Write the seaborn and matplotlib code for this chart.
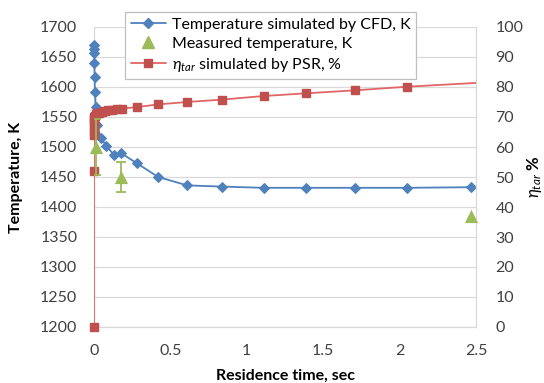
import matplotlib
matplotlib.use("Agg")
import matplotlib.pyplot as plt
import seaborn as sns
import numpy as np
from matplotlib.lines import Line2D

# ---- data ----
cfd_time = [0.0, 0.001, 0.002, 0.003, 0.004, 0.006, 0.012, 0.02, 0.045, 0.08, 0.13, 0.175,
            0.28, 0.42, 0.61, 0.84, 1.11, 1.39, 1.71, 2.05, 2.47]
cfd_temp = [1670, 1664, 1656, 1640, 1617, 1592, 1567, 1537, 1515, 1502, 1487, 1490,
            1473, 1450, 1436, 1434, 1432, 1432, 1432, 1432, 1433]

meas_time = [0.015, 0.175, 2.47]
meas_temp = [1500, 1450, 1385]
meas_err = [47, 25, 0]

psr_time = [0.0, 0.0, 0.0, 0.0, 0.0, 0.0, 0.0, 0.002, 0.006, 0.012, 0.02, 0.035, 0.05,
            0.07, 0.09, 0.12, 0.15, 0.18, 0.28, 0.42, 0.61, 0.84, 1.11, 1.39, 1.71, 2.05, 2.62]
psr_eta = [0, 52, 64, 65.5, 67, 68.3, 69.3, 70.0, 70.5, 70.9, 71.2, 71.5, 71.8,
           72.0, 72.2, 72.4, 72.6, 72.8, 73.3, 74.2, 75.0, 75.8, 77.0, 77.9, 78.9, 80.1, 81.7]

x_ticks = [0, 0.5, 1, 1.5, 2, 2.5]
x_tick_labels = ["0", "0.5", "1", "1.5", "2", "2.5"]
left_ticks = list(range(1200, 1701, 50))
right_ticks = list(range(0, 101, 10))

labels = ["Temperature simulated by CFD, K", "Measured temperature, K",
          r"$\eta_{tar}$ simulated by PSR, %"]

# ---- style ----
sns.set_theme(style="white")
plt.rcParams["font.family"] = ["Lato", "DejaVu Sans"]
plt.rcParams["mathtext.fontset"] = "custom"
plt.rcParams["mathtext.it"] = "Lato:italic"
plt.rcParams["mathtext.rm"] = "Lato"

blue = "#4F81BD"
red = "#C0504D"
red_line = "#E06666"
green = "#9BBB59"
grid_c = "#D9D9D9"
txt_c = "#404040"
fs = 11.5

fig = plt.figure(figsize=(5.44, 3.83), dpi=100)
ax = fig.add_axes([94 / 544, 1 - 327 / 383, (476 - 94) / 544, 300 / 383])

# horizontal grid
for y in left_ticks:
    ax.axhline(y, color=grid_c, lw=0.9, zorder=0)

sns.lineplot(x=cfd_time, y=cfd_temp, ax=ax, color=blue, marker="D", markersize=5,
             markeredgecolor=blue, lw=1.3, sort=False, estimator=None, zorder=3,
             clip_on=False)

ax.set_xlim(0, 2.5)
ax.set_ylim(1200, 1700)
ax.set_xticks(x_ticks)
ax.set_xticklabels(x_tick_labels)
ax.set_yticks(left_ticks)
ax.tick_params(axis="both", labelsize=fs, colors=txt_c, length=0)
ax.tick_params(axis="y", pad=12)
ax.tick_params(axis="x", length=4, direction="in", color=grid_c, pad=12)
for s in ["top", "right"]:
    ax.spines[s].set_visible(False)
for s in ["left", "bottom"]:
    ax.spines[s].set_color(grid_c)
    ax.spines[s].set_linewidth(0.9)
ax.set_xlabel("Residence time, sec", fontsize=fs, fontweight="bold", color="black", labelpad=8)
ax.set_ylabel("Temperature, K", fontsize=fs, fontweight="bold", color="black", labelpad=12)

ax2 = ax.twinx()
sns.lineplot(x=psr_time, y=psr_eta, ax=ax2, color=red_line, lw=1.3, sort=False,
             estimator=None, zorder=3)
ax2.plot(psr_time[:-1], psr_eta[:-1], ls="none", marker="s", markersize=6,
         color=red, markeredgecolor=red, zorder=4, clip_on=False)
ax2.set_ylim(0, 100)
ax2.set_xlim(0, 2.5)

# measured temperature drawn on top (uses the temperature axis scale)
ax2.errorbar(meas_time[:2], meas_temp[:2], yerr=meas_err[:2], fmt="none",
             ecolor=green, elinewidth=1.3, capsize=3.5, capthick=1.3, zorder=5,
             transform=ax.transData)
sns.scatterplot(x=meas_time, y=meas_temp, ax=ax2, color=green, marker="^", s=90,
                edgecolor=green, linewidth=0, zorder=6, transform=ax.transData,
                clip_on=False)
ax2.set_ylim(0, 100)
ax2.set_xlim(0, 2.5)
ax2.set_ylabel("")
ax2.set_yticks(right_ticks)
ax2.tick_params(axis="y", labelsize=fs, colors=txt_c, length=0, pad=14)
for s in ["top", "left", "bottom"]:
    ax2.spines[s].set_visible(False)
ax2.spines["right"].set_color(grid_c)
ax2.spines["right"].set_linewidth(0.9)
ax2.set_ylabel(r"$\eta_{tar}$ %", fontsize=12, fontweight="bold", color="black",
               rotation=90, labelpad=1)

handles = [
    Line2D([], [], color=blue, marker="D", markersize=5, lw=1.3),
    Line2D([], [], color=green, marker="^", markersize=8, lw=0),
    Line2D([], [], color=red_line, marker="s", markersize=6, markerfacecolor=red,
           markeredgecolor=red, lw=1.3),
]
leg = ax2.legend(handles, labels, loc="upper left", bbox_to_anchor=(125 / 544, 1 - 12 / 383),
                 bbox_transform=fig.transFigure, borderaxespad=0, fontsize=fs,
                 frameon=True, fancybox=False, edgecolor="#BFBFBF", framealpha=1,
                 handlelength=2.2, handletextpad=0.4, labelspacing=0.3, borderpad=0.35)
leg.get_frame().set_linewidth(0.9)
leg.set_zorder(10)
for t in leg.get_texts():
    t.set_color("black")

fig.savefig("out.png", dpi=100)
